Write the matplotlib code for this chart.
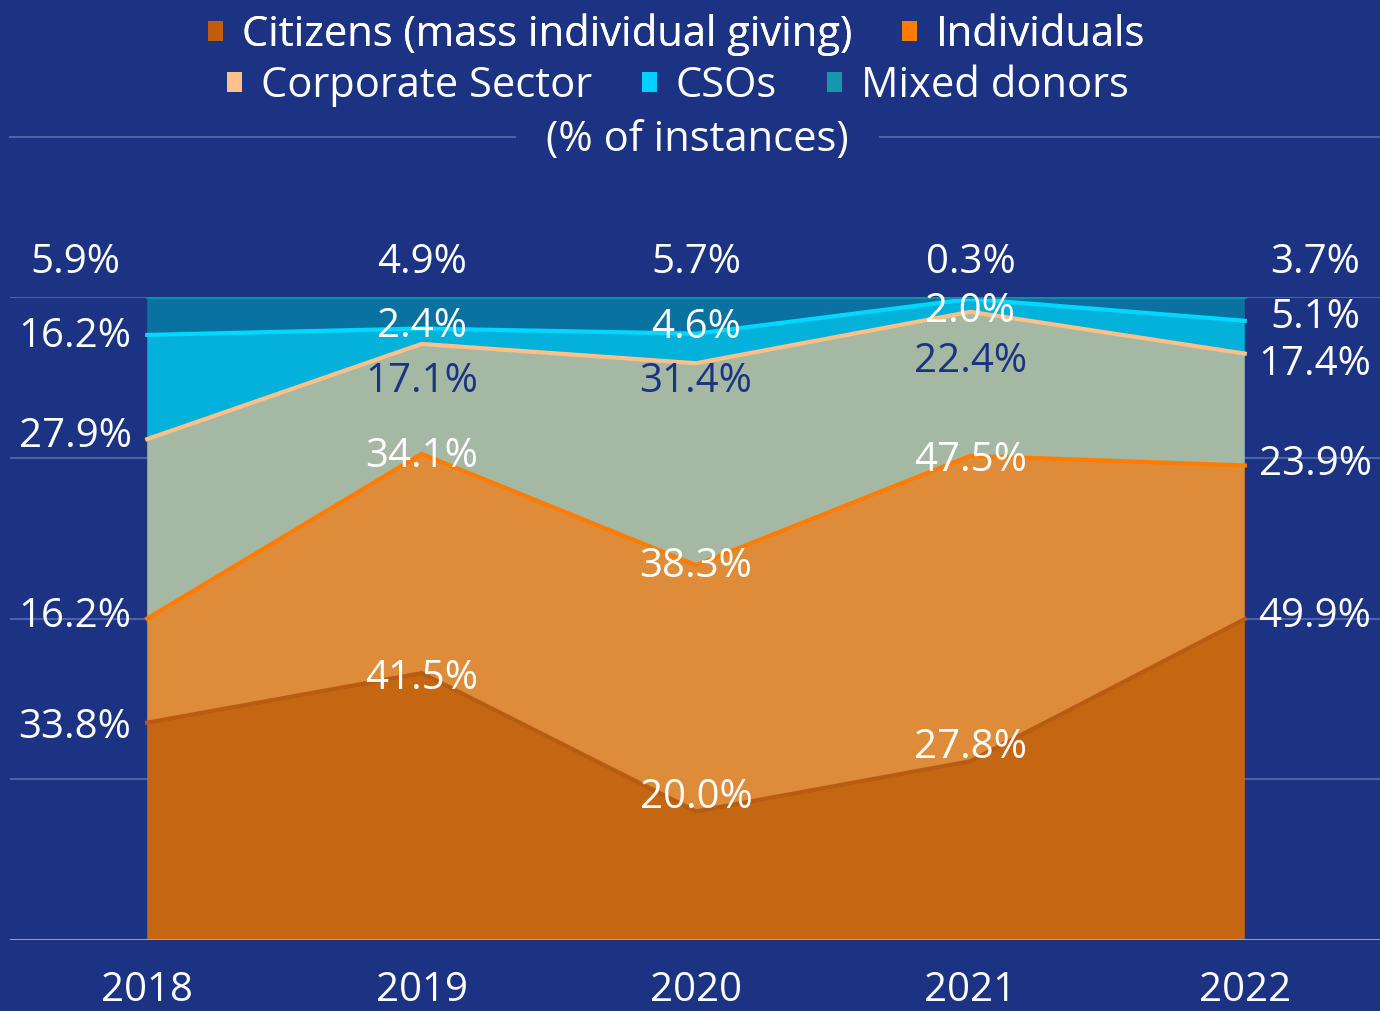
import numpy as np
import matplotlib.pyplot as plt
from matplotlib.patches import Patch
from matplotlib.lines import Line2D

plt.rcParams['font.family'] = ['Open Sans', 'DejaVu Sans']

# data (% of instances)
years = ['2018', '2019', '2020', '2021', '2022']
series_names = ['Citizens (mass individual giving)', 'Individuals', 'Corporate Sector', 'CSOs', 'Mixed donors']
citizens = [33.8, 41.5, 20.0, 27.8, 49.9]
individuals = [16.2, 34.1, 38.3, 47.5, 23.9]
corporate = [27.9, 17.1, 31.4, 22.4, 17.4]
csos = [16.2, 2.4, 4.6, 2.0, 5.1]
mixed = [5.9, 4.9, 5.7, 0.3, 3.7]

# styles
bg = '#1c3384'
fills = ['#c56613', '#de8b3a', '#a4b8a4', '#03b1db', '#0a72a0']
edges = ['#b85c12', '#ff7c00', '#ffc088', '#00d8ff', '#0a93ad']
legend_cols = ['#c55a11', '#ff7c00', '#ffc08a', '#00d0ff', '#1597ad']
# label nudges (percentage points) so the value labels don't collide
nudge = [[-0.8, -0.8, 2.2, 2.1, 0.3],
         [0.2, -0.5, -0.3, -0.7, 0.1],
         [0.3, -5.9, -2.9, -7.8, -1.8],
         [-0.3, 0.2, 0.9, -2.0, 0.4]]

vals = np.array([citizens, individuals, corporate, csos, mixed])
cum = vals.cumsum(axis=0)
x = np.arange(len(years))

fig = plt.figure(figsize=(13.8, 10.11), dpi=100, facecolor=bg)
ax = fig.add_axes([10 / 1380, 1 - 940 / 1011, 1372 / 1380, 643 / 1011])
ax.set_facecolor(bg)

for g in [25, 50, 75, 100]:
    ax.axhline(g, color='#4d63a6', lw=1.5, zorder=0)
ax.axhline(0, color='#9aa9d6', lw=2, zorder=5)

ax.stackplot(x, vals, colors=fills, lw=0, zorder=1)
for i in range(len(vals)):
    ax.plot(x, cum[i], color=edges[i], lw=3 if i < 4 else 2, zorder=2, solid_joinstyle='miter')

ax.set_xlim(-0.5, 4.5)
ax.set_ylim(0, 100)
ax.set_yticks([])
ax.set_xticks(x, years)
ax.tick_params(axis='x', length=0, labelsize=29, colors='white', pad=22)
for s in ax.spines.values():
    s.set_visible(False)

# value labels
lab_x = [-0.263, 1, 2, 3, 4.256]
for i in range(len(vals)):
    for j in range(len(years)):
        if i == 4:
            y = 105.4
        else:
            y = cum[i, j] + nudge[i][j]
        inside = 0 < j < 4
        col = '#1c3384' if (i == 2 and inside) else 'white'
        ax.text(lab_x[j], y, f'{vals[i, j]:.1f}%', ha='center', va='center',
                fontsize=29, color=col, zorder=6, clip_on=False)

# legend
handles = [Patch(facecolor=c, edgecolor='none') for c in legend_cols]
kw = dict(frameon=False, fontsize=30, labelcolor='white', handlelength=0.36,
          handleheight=0.36, handletextpad=0.45, columnspacing=1.2, borderpad=0)
leg1 = fig.legend(handles[:2], series_names[:2], ncol=2, loc='center',
                  bbox_to_anchor=(677 / 1380, 1 - 35 / 1011), **kw)
fig.add_artist(leg1)
fig.legend(handles[2:], series_names[2:], ncol=3, loc='center',
           bbox_to_anchor=(678 / 1380, 1 - 86 / 1011), **kw)

fig.text(697 / 1380, 1 - 140 / 1011, '(% of instances)', ha='center', va='center',
         fontsize=30, color='white')
fig.add_artist(Line2D([10 / 1380, 515 / 1380], [1 - 137 / 1011] * 2, color='#4d63a6', lw=1.5))
fig.add_artist(Line2D([880 / 1380, 1.0], [1 - 137 / 1011] * 2, color='#4d63a6', lw=1.5))

fig.savefig('out.png', dpi=100, facecolor=bg)
